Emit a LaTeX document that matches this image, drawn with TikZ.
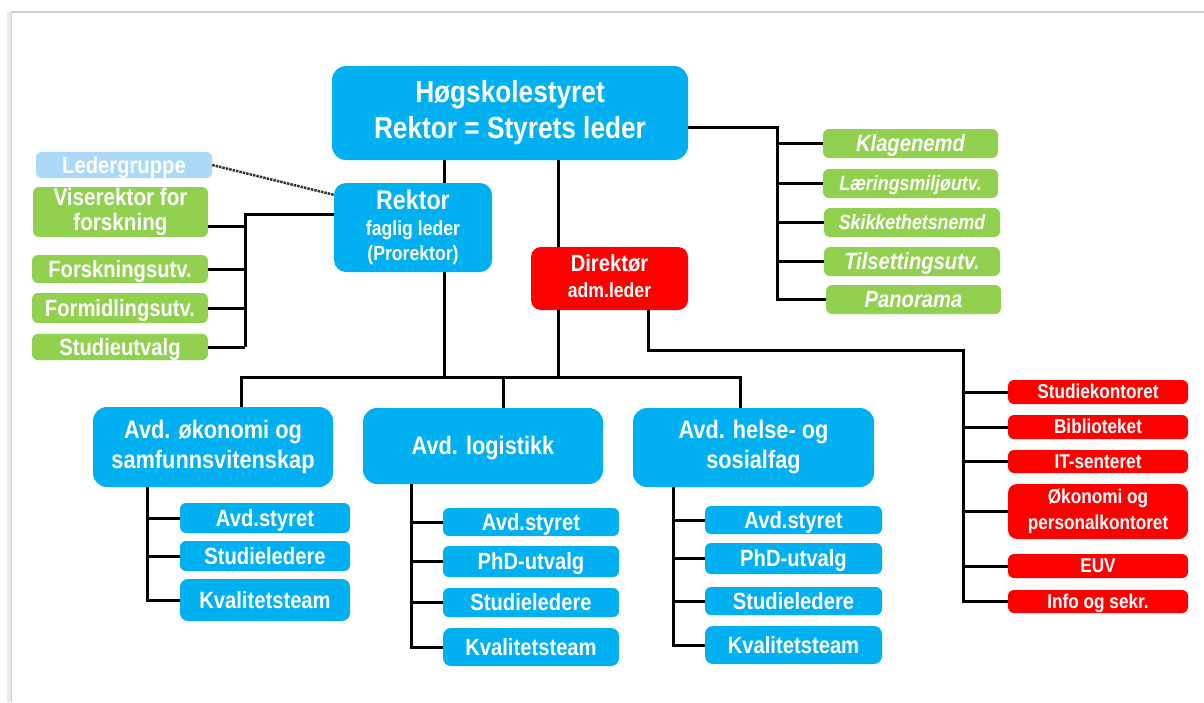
\documentclass[tikz,border=0pt]{standalone}
\usepackage{fontspec}
\setmainfont{Liberation Sans}[FakeStretch=0.86]
\definecolor{hsblue}{HTML}{00B0F0}
\definecolor{hsgreen}{HTML}{92D050}
\definecolor{hsred}{HTML}{FF0000}
\definecolor{hslight}{HTML}{ABD9F6}
\newcommand\hsop{\vrule width 0pt height 0.905em depth 0pt\relax}
\newcommand\hsned{\vrule width 0pt height 0pt depth 0.212em\relax}
\tikzset{
	boks/.style={rounded corners=6, text=white, inner sep=0pt, align=center,
		execute at begin node=\hsop, execute at end node=\hsned},
	blaa/.style={boks, fill=hsblue},
	groenn/.style={boks, fill=hsgreen},
	roed/.style={boks, fill=hsred},
	mal/.style 2 args={minimum width=#1, minimum height=#2},
	senk/.style={execute at begin node={\vrule width 0pt height #1 depth 0pt\relax}},
	fs/.style 2 args={font=\bfseries\fontsize{#1}{#2}\selectfont},
	fsi/.style 2 args={font=\bfseries\itshape\fontsize{#1}{#2}\selectfont},
	str/.style={line width=3, black},
}
\begin{document}
\begin{tikzpicture}[x=1pt,y=-1pt]
	\useasboundingbox (0,0) rectangle (1204,702);
	\fill[white] (0,0) rectangle (1204,702);
	\draw[black!8, line width=5] (9,702) -- (9,12);
	\draw[black!18, line width=1.5] (11.5,702) -- (11.5,12) -- (1204,12);
	% ledelse
	\node[blaa, rounded corners=14, mal={356}{94}, fs={30.5}{36}, senk=30.4pt] (hs) at (510,113) {Høgskolestyret\\Rektor = Styrets leder};
	\node[blaa, rounded corners=12, mal={158}{89}, fs={20.5}{25.5}, senk=24.5pt] (rektor) at (413,227.5) {{\fontsize{27}{26}\selectfont Rektor}\\faglig leder\\(Prorektor)};
	\node[roed, rounded corners=10, mal={157}{63}, fs={20.5}{26}, senk=27.4pt] (direktor) at (609.5,278.5) {{\fontsize{23.5}{26}\selectfont Direktør}\\adm.leder};
	\node[boks, fill=hslight, mal={176}{24}, fs={23.5}{24}] (leder) at (124,165) {Ledergruppe};
	% venstre
	\node[groenn, mal={175}{50}, fs={24}{25}, senk=29.7pt] (vise) at (120.5,212) {Viserektor for\\forskning};
	\node[groenn, mal={176}{28}, fs={23.5}{24}] (fu) at (120,269) {Forskningsutv.};
	\node[groenn, mal={176}{30}, fs={23.5}{24}] (fo) at (120,308) {Formidlingsutv.};
	\node[groenn, mal={176}{26}, fs={23.5}{24}] (stu) at (120,347) {Studieutvalg};
	% hoeyre
	\node[groenn, mal={175}{29}, fsi={23.5}{24}] (kl) at (910.5,143.5) {Klagenemd};
	\node[groenn, mal={175}{29}, fsi={20.7}{22}] (lm) at (910.5,183.5) {Læringsmiljøutv.};
	\node[groenn, mal={176}{29}, fsi={20.7}{22}] (sk) at (912,222.5) {Skikkethetsnemd};
	\node[groenn, mal={176}{29}, fsi={23.5}{24}] (ti) at (912,261.5) {Tilsettingsutv.};
	\node[groenn, mal={175}{29}, fsi={23.5}{24}] (pa) at (913.5,299.5) {Panorama};
	% administrasjon
	\node[roed, mal={180}{24}, fs={20}{22}] (studk) at (1098,392) {Studiekontoret};
	\node[roed, mal={180}{24}, fs={20}{22}] (bib) at (1098,427) {Biblioteket};
	\node[roed, mal={180}{23}, fs={20}{22}] (it) at (1098,461.5) {IT-senteret};
	\node[roed, rounded corners=9, mal={180}{55}, fs={20}{25.5}, senk=21pt] (oko) at (1098,511.5) {Økonomi og\\personalkontoret};
	\node[roed, mal={180}{24}, fs={20}{22}] (euv) at (1098,566) {EUV};
	\node[roed, mal={180}{23}, fs={20}{22}] (info) at (1098,601.5) {Info og sekr.};
	% avdelinger
	\node[blaa, rounded corners=14, mal={240}{80}, fs={25.3}{30}, senk=27pt] (ok) at (213,447) {Avd. økonomi og\\samfunnsvitenskap};
	\node[blaa, rounded corners=14, mal={240}{76}, fs={25.3}{30}] (log) at (483,446) {Avd. logistikk};
	\node[blaa, rounded corners=14, mal={241}{79}, fs={25.3}{30}, senk=26.3pt] (hel) at (753.5,447.5) {Avd. helse- og\\sosialfag};
	\node[blaa, mal={170}{30}, fs={23.5}{24}] (okstyret) at (265,518) {Avd.styret};
	\node[blaa, mal={170}{30}, fs={23.5}{24}] (okstudie) at (265,556) {Studieledere};
	\node[blaa, rounded corners=8, mal={170}{42}, fs={23.5}{24}] (okkval) at (265,600) {Kvalitetsteam};
	\node[blaa, mal={176}{28}, fs={23.5}{24}] (logstyret) at (531,522) {Avd.styret};
	\node[blaa, mal={176}{31}, fs={23.5}{24}] (logphd) at (531,561.5) {PhD-utvalg};
	\node[blaa, mal={176}{29}, fs={23.5}{24}] (logstudie) at (531,602.5) {Studieledere};
	\node[blaa, rounded corners=8, mal={176}{38}, fs={23.5}{24}] (logkval) at (531,647) {Kvalitetsteam};
	\node[blaa, mal={177}{28}, fs={23.5}{24}] (helstyret) at (793.5,520) {Avd.styret};
	\node[blaa, mal={177}{31}, fs={23.5}{24}] (helphd) at (793.5,558.5) {PhD-utvalg};
	\node[blaa, mal={177}{28}, fs={23.5}{24}] (helstudie) at (793.5,601) {Studieledere};
	\node[blaa, rounded corners=8, mal={177}{38}, fs={23.5}{24}] (helkval) at (793.5,645) {Kvalitetsteam};
	% linjer
	\coordinate (b1) at (444,377);
	\coordinate (b2) at (558,377);
	\coordinate (bl) at (241,377);
	\coordinate (bm) at (503,377);
	\coordinate (br) at (740,377);
	\draw[str] (hs.south -| b1) -- (rektor.north -| b1);
	\draw[str] (rektor.south -| b1) -- (b1);
	\draw[str] (hs.south -| b2) -- (direktor.north -| b2);
	\draw[str] (direktor.south -| b2) -- (b2);
	\draw[str] (ok.north -| bl) -- (bl) -- (br) -- (hel.north -| br);
	\draw[str] (bm) -- (log.north -| bm);
	\draw[densely dotted, line width=2.5, black!80] (leder.east) -- ([yshift=-12pt]rektor.north west);
	\coordinate (lbus) at (245,214);
	\draw[str] (rektor.west |- lbus) -- (lbus) -- (lbus |- stu.east);
	\draw[str] ([yshift=-14pt]vise.east) -- +(37,0);
	\draw[str] (fu.east) -- (fu.east -| lbus);
	\draw[str] (fo.east) -- (fo.east -| lbus);
	\draw[str] (stu.east) -- (stu.east -| lbus);
	\coordinate (rbus) at (777,127);
	\draw[str] (hs.east |- rbus) -- (rbus) -- (rbus |- pa.west) -- (pa.west);
	\draw[str] (rbus |- kl.west) -- (kl.west);
	\draw[str] (rbus |- lm.west) -- (lm.west);
	\draw[str] (rbus |- sk.west) -- (sk.west);
	\draw[str] (rbus |- ti.west) -- (ti.west);
	\coordinate (dk) at (648,350);
	\coordinate (rdbus) at (963,350);
	\draw[str] (direktor.south -| dk) -- (dk) -- (rdbus) -- (rdbus |- info.west) -- (info.west);
	\draw[str] (rdbus |- studk.west) -- (studk.west);
	\draw[str] (rdbus |- bib.west) -- (bib.west);
	\draw[str] (rdbus |- it.west) -- (it.west);
	\draw[str] (rdbus |- oko.west) -- (oko.west);
	\draw[str] (rdbus |- euv.west) -- (euv.west);
	\coordinate (okv) at (147,487);
	\draw[str] (okv) -- (okv |- okkval.west) -- (okkval.west);
	\draw[str] (okv |- okstyret.west) -- (okstyret.west);
	\draw[str] (okv |- okstudie.west) -- (okstudie.west);
	\coordinate (logv) at (411,484);
	\draw[str] (logv) -- (logv |- logkval.west) -- (logkval.west);
	\draw[str] (logv |- logstyret.west) -- (logstyret.west);
	\draw[str] (logv |- logphd.west) -- (logphd.west);
	\draw[str] (logv |- logstudie.west) -- (logstudie.west);
	\coordinate (helv) at (673,487);
	\draw[str] (helv) -- (helv |- helkval.west) -- (helkval.west);
	\draw[str] (helv |- helstyret.west) -- (helstyret.west);
	\draw[str] (helv |- helphd.west) -- (helphd.west);
	\draw[str] (helv |- helstudie.west) -- (helstudie.west);
\end{tikzpicture}
\end{document}
